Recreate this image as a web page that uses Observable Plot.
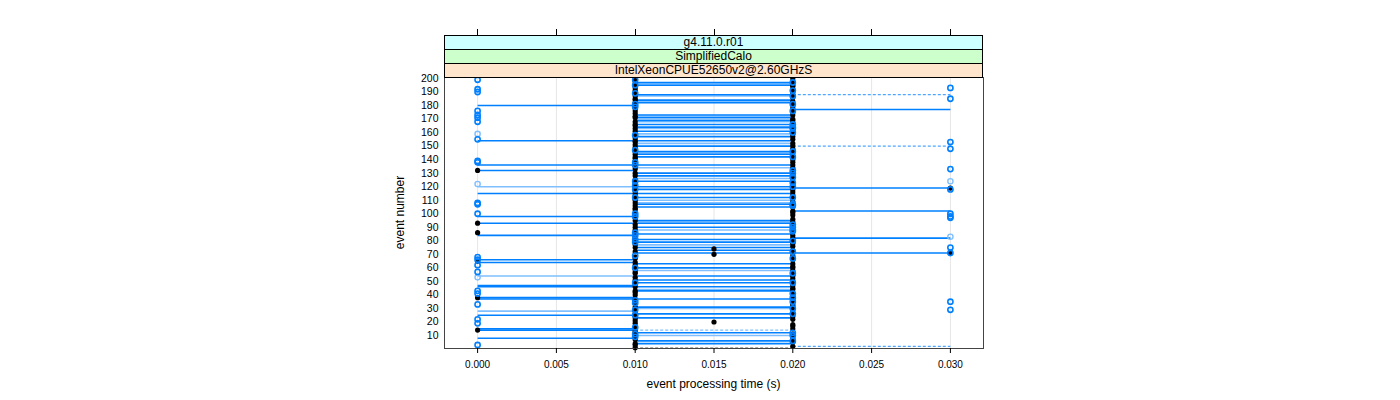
<!DOCTYPE html>
<html><head><meta charset="utf-8">
<script src="https://cdn.jsdelivr.net/npm/d3@7"></script>
<script src="https://cdn.jsdelivr.net/npm/@observablehq/plot@0.6"></script>
<style>body{margin:0;background:#fff;}</style>
</head><body><div id="chart"></div>
<script>
// ---- strip labels / axes ----
const stripLabels = ["g4.11.0.r01", "SimplifiedCalo", "IntelXeonCPUE52650v2@2.60GHzS"];
const stripColors = ["#CCFFFF", "#CCFFCC", "#FFE5CC"];
const xTicks = [0, 0.005, 0.010, 0.015, 0.020, 0.025, 0.030];
const yTicks = [10,20,30,40,50,60,70,80,90,100,110,120,130,140,150,160,170,180,190,200];
const xTitle = "event processing time (s)";
const yTitle = "event number";

// ---- black dots: time (s) for events 1..200 ----
const blackTime = [
  0.01,0.02,0.01,0.01,0.02,0.02,0.01,0.02,0.01,0.02,
  0.02,0.01,0.01,0.00,0.02,0.01,0.02,0.02,0.01,0.015,
  0.01,0.02,0.01,0.02,0.01,0.01,0.02,0.01,0.02,0.02,
  0.01,0.02,0.02,0.01,0.01,0.02,0.01,0.00,0.02,0.01,
  0.02,0.01,0.01,0.02,0.02,0.01,0.02,0.01,0.01,0.02,
  0.01,0.02,0.01,0.02,0.02,0.01,0.01,0.02,0.01,0.02,
  0.02,0.01,0.02,0.01,0.00,0.02,0.01,0.01,0.02,0.015,
  0.03,0.01,0.02,0.015,0.01,0.02,0.01,0.02,0.02,0.01,
  0.01,0.02,0.01,0.02,0.01,0.00,0.02,0.01,0.02,0.01,
  0.02,0.01,0.00,0.02,0.01,0.02,0.01,0.01,0.02,0.01,
  0.02,0.02,0.01,0.01,0.02,0.01,0.02,0.01,0.02,0.01,
  0.01,0.02,0.01,0.02,0.01,0.02,0.01,0.02,0.03,0.01,
  0.02,0.01,0.02,0.01,0.01,0.02,0.02,0.01,0.02,0.01,
  0.02,0.00,0.01,0.02,0.01,0.02,0.01,0.02,0.01,0.02,
  0.01,0.01,0.02,0.01,0.02,0.01,0.02,0.02,0.01,0.02,
  0.01,0.02,0.01,0.01,0.02,0.01,0.02,0.01,0.02,0.02,
  0.01,0.02,0.01,0.02,0.01,0.01,0.02,0.01,0.02,0.02,
  0.01,0.01,0.02,0.01,0.02,0.01,0.02,0.01,0.02,0.01,
  0.02,0.01,0.02,0.01,0.01,0.02,0.01,0.02,0.01,0.02,
  0.01,0.02,0.01,0.02,0.02,0.01,0.02,0.01,0.01,0.02
];

// ---- blue circles: event numbers per time column ----
const blueAt000 = [199,192,190,176,173,171,168,155,139,138,108,107,100,68,66,62,57,43,41,33,22,19,3];
const lightAt000 = [159,122,53];
const blueAt010 = [199,195,189,181,179,158,147,138,136,124,121,118,112,100,98,86,84,81,79,69,60,49,36,34,29,25,16,11,9];
const blueAt020 = [197,191,187,181,176,166,164,163,160,146,142,132,130,127,123,120,112,107,106,92,90,88,87,80,72,67,56,49,41,38,35,30,26,12,10,6];
const blueAt030 = [193,185,153,148,133,118,100,98,97,75,71,35,29];
const lightAt030 = [124,83];

// ---- ranges (event number) ----
const rangeLowSolid = [180,154,136,132,115,98,93,84,66,64,47,46,38,37,25,15,14,8];      // 0.00 -> 0.01
const rangeLowLight = [120,54,28];                                                     // 0.00 -> 0.01
const rangeMidSolid = [197,195,188,184,182,173,171,169,166,164,161,157,154,150,146,144,142,136,130,128,124,120,118,115,112,107,105,95,93,90,85,81,79,75,73,71,63,60,54,51,49,46,43,37,31,26,23,12,6,4]; // 0.01 -> 0.02
const rangeMidLight = [196,187,183,172,168,163,159,152,145,134,126,110,108,94,88,77,58,44,30,10];
const rangeMidDashed = [14];
const rangeMidGrey = [1];
const rangeHighSolid = [177,119,102,82,71];   // 0.02 -> 0.03
const rangeHighDashed = [188,150,2];

// ---- build tables ----
const blackPts = blackTime.map((t, i) => ({event: i + 1, time: t}));
const col = (evs, t) => evs.map(e => ({event: e, time: t}));
const bluePts = [...col(blueAt000, 0), ...col(blueAt010, 0.01), ...col(blueAt020, 0.02), ...col(blueAt030, 0.03)];
const lightPts = [...col(lightAt000, 0), ...col(lightAt030, 0.03)];
const seg = (evs, a, b) => evs.map(e => ({event: e, from: a, to: b}));

const BLUE = "#0080ff", LIGHT = "#7fbfff";
const segMark = (data, o) => Plot.link(data, {x1: "from", x2: "to", y1: "event", y2: "event", ...o});

function decorations(index, scales, values, dim) {
  const g = d3.create("svg:g");
  const L = dim.marginLeft, R = dim.width - dim.marginRight, T = dim.marginTop, B = dim.height - dim.marginBottom;
  const sh = 14;
  stripLabels.forEach((lab, i) => {
    const y0 = T - sh * (stripLabels.length - i);
    g.append("rect").attr("x", L + 0.5).attr("y", y0 + 0.5).attr("width", R - L - 1).attr("height", sh)
      .attr("fill", stripColors[i]).attr("stroke", "#000").attr("stroke-width", 1);
    g.append("text").attr("x", (L + R) / 2).attr("y", y0 + sh / 2 + 1).attr("text-anchor", "middle")
      .attr("dominant-baseline", "middle").attr("font-size", 12).attr("fill", "#000").text(lab);
  });
  const top = T - sh * stripLabels.length;
  xTicks.forEach(t => {
    const x = Math.round(scales.x(t)) + 0.5;
    g.append("line").attr("x1", x).attr("x2", x).attr("y1", top - 6).attr("y2", top).attr("stroke", "#000");
  });
  g.append("text").attr("x", (L + R) / 2).attr("y", B + 40).attr("text-anchor", "middle")
    .attr("font-size", 12).attr("fill", "#000").text(xTitle);
  g.append("text").attr("transform", `translate(${L - 40},${(T + B) / 2}) rotate(-90)`).attr("text-anchor", "middle")
    .attr("font-size", 12).attr("fill", "#000").text(yTitle);
  return g.node();
}

const chart = Plot.plot({
  width: 1400, height: 400,
  marginLeft: 444, marginRight: 417, marginTop: 77, marginBottom: 52,
  style: {fontFamily: "'Liberation Sans', Arial, sans-serif", fontSize: "10px", background: "#fff", color: "#000"},
  x: {domain: [-0.0021, 0.0321]},
  y: {domain: [0.4, 200.7]},
  marks: [
    Plot.gridX({ticks: xTicks, stroke: "#e6e6e6", strokeOpacity: 1}),
    segMark(seg(rangeLowLight, 0, 0.01), {stroke: LIGHT, strokeWidth: 1.6}),
    segMark(seg(rangeMidLight, 0.01, 0.02), {stroke: LIGHT, strokeWidth: 1.6}),
    segMark(seg(rangeLowSolid, 0, 0.01), {stroke: BLUE, strokeWidth: 1.6}),
    segMark(seg(rangeMidSolid, 0.01, 0.02), {stroke: BLUE, strokeWidth: 1.6}),
    segMark(seg(rangeHighSolid, 0.02, 0.03), {stroke: BLUE, strokeWidth: 1.6}),
    segMark(seg(rangeMidDashed, 0.01, 0.02), {stroke: LIGHT, strokeWidth: 1.2, strokeDasharray: "3,2"}),
    segMark(seg(rangeMidGrey, 0.01, 0.02), {stroke: "#aaaaaa", strokeWidth: 1.2, strokeDasharray: "3,2"}),
    segMark(seg(rangeHighDashed, 0.02, 0.03), {stroke: "#4da6ff", strokeWidth: 1.2, strokeDasharray: "3,2"}),
    Plot.dot(blackPts, {x: "time", y: "event", r: 2.6, fill: "#000", stroke: "none"}),
    Plot.dot(lightPts, {x: "time", y: "event", r: 2.6, fill: "none", stroke: LIGHT, strokeWidth: 1.4}),
    Plot.dot(bluePts, {x: "time", y: "event", r: 2.6, fill: "none", stroke: BLUE, strokeWidth: 1.6}),
    Plot.frame({stroke: "#444"}),
    Plot.axisX({ticks: xTicks, tickFormat: d3.format(".3f"), tickSize: 5, tickPadding: 7, label: null, fontSize: 10}),
    Plot.axisY({ticks: yTicks, tickSize: 0, tickPadding: 6, label: null, fontSize: 10.5}),
    decorations
  ]
});
document.getElementById("chart").appendChild(chart);
</script>
</body></html>
